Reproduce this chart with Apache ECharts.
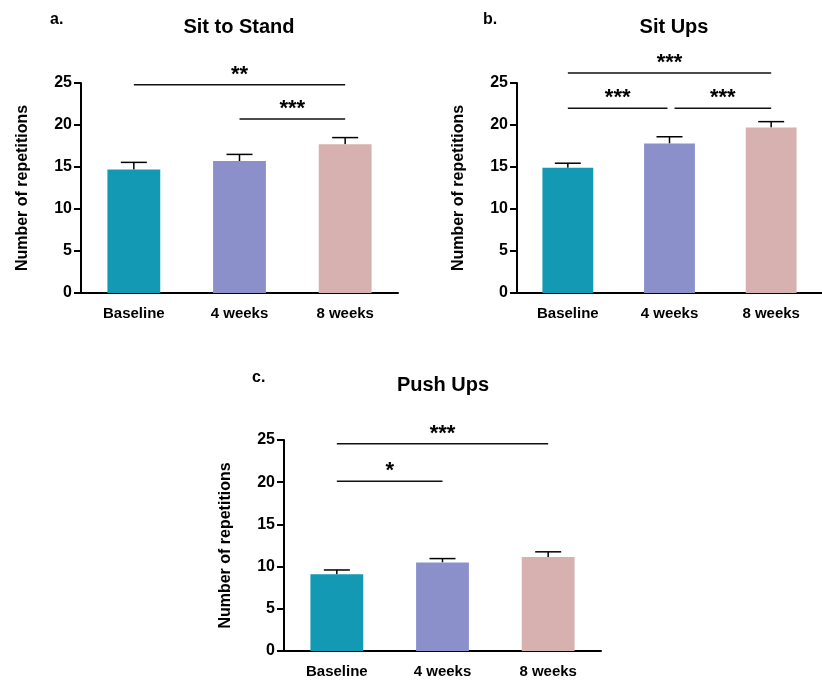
<!DOCTYPE html>
<html><head><meta charset="utf-8">
<script src="https://cdn.jsdelivr.net/npm/echarts@6/dist/echarts.min.js"></script>
<style>html,body{margin:0;padding:0;background:#fff}#c{width:822px;height:680px}</style>
</head><body><div id="c"></div>
<script>
const categories = ['Baseline', '4 weeks', '8 weeks'];
const barColors = ['#1399b3', '#8b90cb', '#d7b0b0'];
const yMin = 0, yMax = 25, yStep = 5;
const panelTitles = ['Sit to Stand', 'Sit Ups', 'Push Ups'];
const panelLetters = ['a.', 'b.', 'c.'];
const sitStandMean = [14.7, 15.7, 17.7];
const sitStandErr = [0.85, 0.8, 0.8];
const sitUpsMean = [14.9, 17.8, 19.7];
const sitUpsErr = [0.55, 0.8, 0.7];
const pushUpsMean = [9.1, 10.5, 11.15];
const pushUpsErr = [0.5, 0.45, 0.6];
// [from category, to category, y value, stars]
const sitStandSig = [[0, 2, 24.8, '**'], [1, 2, 20.7, '***']];
const sitUpsSig = [[0, 2, 26.2, '***'], [0, 1, 22.0, '***'], [1, 2, 22.0, '***']];
const pushUpsSig = [[0, 2, 24.55, '***'], [0, 1, 20.1, '*']];

const means = [sitStandMean, sitUpsMean, pushUpsMean];
const errs = [sitStandErr, sitUpsErr, pushUpsErr];
const sigs = [sitStandSig, sitUpsSig, pushUpsSig];

const FONT = 'Liberation Sans, Arial, sans-serif';
const grids = [
  {left: 81, top: 83, width: 317, height: 210},
  {left: 517, top: 83, width: 317, height: 210},
  {left: 284, top: 440, width: 317, height: 211}
];
const titlePos = [[239, 27], [674, 27], [443, 385]];
const letterPos = [[50, 20], [483, 20], [252, 378]];

const xAxes = [], yAxes = [], series = [], graphics = [];
for (let i = 0; i < 3; i++) {
  xAxes.push({
    type: 'category', gridIndex: i, data: categories,
    axisLine: {lineStyle: {color: '#000', width: 2}},
    axisTick: {alignWithLabel: true, length: 8, lineStyle: {color: '#000', width: 2}},
    axisLabel: {color: '#000', fontWeight: 'bold', fontSize: 15, fontFamily: FONT, margin: 13}
  });
  yAxes.push({
    type: 'value', gridIndex: i, min: yMin, max: yMax, interval: yStep,
    name: 'Number of repetitions', nameLocation: 'middle', nameGap: 50, nameRotate: 90,
    nameTextStyle: {color: '#000', fontWeight: 'bold', fontSize: 16, fontFamily: FONT},
    axisLine: {show: true, lineStyle: {color: '#000', width: 2}},
    axisTick: {show: true, length: 7, lineStyle: {color: '#000', width: 2}},
    axisLabel: {color: '#000', fontWeight: 'bold', fontSize: 16, fontFamily: FONT, margin: 9},
    splitLine: {show: false}
  });
  series.push({
    type: 'bar', xAxisIndex: i, yAxisIndex: i, barWidth: '50%',
    data: means[i].map((v, k) => ({value: v, itemStyle: {color: barColors[k]}})),
    z: 2
  });
  const m = means[i], e = errs[i];
  series.push({
    type: 'custom', xAxisIndex: i, yAxisIndex: i, z: 1,
    data: m.map((v, k) => [k, v, v + e[k]]),
    renderItem: function (params, api) {
      const p0 = api.coord([api.value(0), api.value(1)]);
      const p1 = api.coord([api.value(0), api.value(2)]);
      const hw = 13;
      return {type: 'group', children: [
        {type: 'line', shape: {x1: p0[0], y1: p0[1], x2: p1[0], y2: p1[1]}, style: {stroke: '#000', lineWidth: 1.5}},
        {type: 'line', shape: {x1: p1[0] - hw, y1: p1[1], x2: p1[0] + hw, y2: p1[1]}, style: {stroke: '#000', lineWidth: 1.5}}
      ]};
    }
  });
  const sg = sigs[i];
  const shared = i === 1;
  series.push({
    type: 'custom', xAxisIndex: i, yAxisIndex: i, z: 3, clip: false,
    data: sg.map(s => [s[0], s[1], s[2], s[3]]),
    renderItem: function (params, api) {
      const a = api.coord([api.value(0), api.value(2)]);
      const b = api.coord([api.value(1), api.value(2)]);
      let x1 = a[0], x2 = b[0];
      if (shared && api.value(1) - api.value(0) === 1) {
        if (api.value(1) === 1) x2 -= 2; else x1 += 5;
      }
      const txt = sg[params.dataIndex][3];
      return {type: 'group', children: [
        {type: 'line', shape: {x1: x1, y1: a[1], x2: x2, y2: a[1]}, style: {stroke: '#111', lineWidth: 1.5}},
        {type: 'text', x: (x1 + x2) / 2, y: a[1] - 10, style: {text: txt, fill: '#000', font: 'bold 22px ' + FONT, textAlign: 'center', textVerticalAlign: 'middle'}}
      ]};
    }
  });
  graphics.push({type: 'text', x: titlePos[i][0], y: titlePos[i][1],
    style: {text: panelTitles[i], fill: '#000', font: 'bold 20px ' + FONT, textAlign: 'center', textVerticalAlign: 'middle'}});
  graphics.push({type: 'text', x: letterPos[i][0], y: letterPos[i][1],
    style: {text: panelLetters[i], fill: '#000', font: 'bold 16px ' + FONT, textAlign: 'left', textVerticalAlign: 'middle'}});
}

const chart = echarts.init(document.getElementById('c'), null, {renderer: 'canvas'});
chart.setOption({
  animation: false,
  backgroundColor: '#fff',
  grid: grids,
  xAxis: xAxes,
  yAxis: yAxes,
  series: series,
  graphic: graphics
});
</script></body></html>
